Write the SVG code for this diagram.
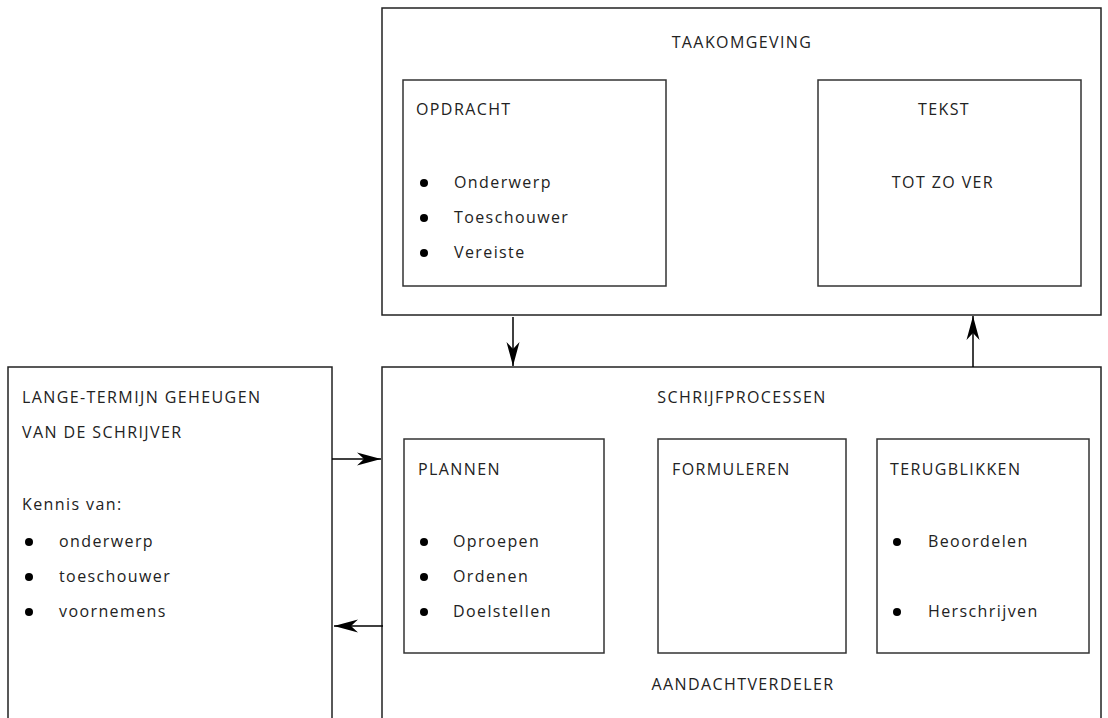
<svg xmlns="http://www.w3.org/2000/svg" width="1108" height="718" viewBox="0 0 1108 718">
<style>
.box{fill:none;stroke:#222;stroke-width:1.5}
.ibox{fill:none;stroke:#333;stroke-width:1.5}
text{font-family:"Open Sans","Noto Sans",sans-serif;font-size:16px;fill:#222;letter-spacing:1.4px}
.c{text-anchor:middle}
.dot{fill:#000}
.con{stroke:#000;stroke-width:1.5;fill:none;marker-end:url(#ah)}
</style>
<defs>
<marker id="ah" markerWidth="26" markerHeight="14" refX="24" refY="7" orient="auto" markerUnits="userSpaceOnUse">
<path d="M0,0.5 L24,7 L0,13.5 L7,7 Z" fill="#000"/>
</marker>
</defs>
<rect width="1108" height="718" fill="#fff"/>
<g id="taakomgeving">
<rect class="box" x="382" y="8" width="719" height="307"/>
<text class="c" x="742" y="48">TAAKOMGEVING</text>
</g>
<g id="opdracht">
<rect class="ibox" x="403" y="80" width="263" height="206"/>
<text x="416" y="115">OPDRACHT</text>
<circle class="dot" cx="424" cy="183" r="4"/><text x="454" y="188">Onderwerp</text>
<circle class="dot" cx="424" cy="218" r="4"/><text x="454" y="223">Toeschouwer</text>
<circle class="dot" cx="424" cy="253" r="4"/><text x="454" y="258">Vereiste</text>
</g>
<g id="tekst">
<rect class="ibox" x="818" y="80" width="263" height="206"/>
<text class="c" x="944" y="115">TEKST</text>
<text class="c" x="943" y="188">TOT ZO VER</text>
</g>
<g id="geheugen">
<rect class="box" x="8" y="367" width="324" height="360"/>
<text x="22" y="403">LANGE-TERMIJN GEHEUGEN</text>
<text x="22" y="438">VAN DE SCHRIJVER</text>
<text x="22" y="510">Kennis van:</text>
<circle class="dot" cx="29" cy="542" r="4"/><text x="59" y="547">onderwerp</text>
<circle class="dot" cx="29" cy="577" r="4"/><text x="59" y="582">toeschouwer</text>
<circle class="dot" cx="29" cy="612" r="4"/><text x="59" y="617">voornemens</text>
</g>
<g id="schrijfprocessen">
<rect class="box" x="382" y="367" width="719" height="360"/>
<text class="c" x="742" y="403">SCHRIJFPROCESSEN</text>
<text class="c" x="743" y="690">AANDACHTVERDELER</text>
</g>
<g id="plannen">
<rect class="ibox" x="404" y="439" width="200" height="214"/>
<text x="418" y="475">PLANNEN</text>
<circle class="dot" cx="424" cy="542" r="4"/><text x="453" y="547">Oproepen</text>
<circle class="dot" cx="424" cy="577" r="4"/><text x="453" y="582">Ordenen</text>
<circle class="dot" cx="424" cy="612" r="4"/><text x="453" y="617">Doelstellen</text>
</g>
<g id="formuleren">
<rect class="ibox" x="658" y="439" width="188" height="214"/>
<text x="672" y="475">FORMULEREN</text>
</g>
<g id="terugblikken">
<rect class="ibox" x="877" y="439" width="212" height="214"/>
<text x="890" y="475">TERUGBLIKKEN</text>
<circle class="dot" cx="897" cy="542" r="4"/><text x="928" y="547">Beoordelen</text>
<circle class="dot" cx="897" cy="612" r="4"/><text x="928" y="617">Herschrijven</text>
</g>
<g id="connectors">
<line class="con" x1="513" y1="317" x2="513" y2="366"/>
<line class="con" x1="973" y1="367" x2="973" y2="316"/>
<line class="con" x1="332" y1="459" x2="381" y2="459"/>
<line class="con" x1="383" y1="626" x2="334" y2="626"/>
</g>
</svg>
